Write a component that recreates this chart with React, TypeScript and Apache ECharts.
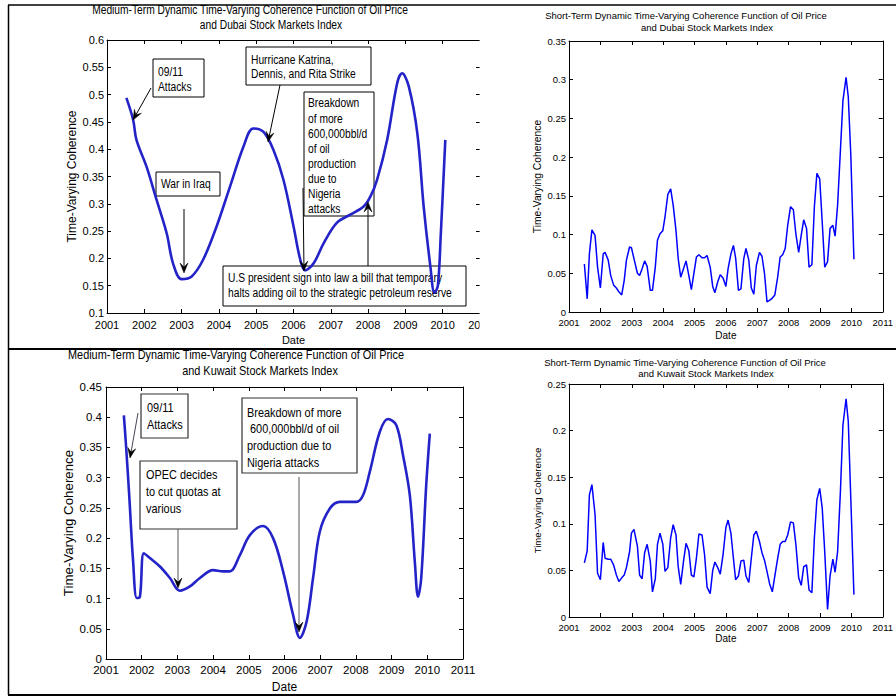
import React, { useEffect, useRef } from 'react';
import * as echarts from 'echarts';

// ---------- data ----------
const dubaiMedDates = [2001.52, 2001.70, 2001.79, 2002.06, 2002.33, 2002.6, 2002.77, 2003.0, 2003.27, 2003.58, 2003.94, 2004.3, 2004.66, 2004.92, 2005.19, 2005.46, 2005.73, 2006.0, 2006.18, 2006.31, 2006.54, 2006.81, 2007.16, 2007.52, 2007.88, 2008.06, 2008.24, 2008.51, 2008.78, 2008.91, 2009.09, 2009.32, 2009.49, 2009.67, 2009.78, 2009.87, 2009.95, 2010.07];
const dubaiMedValues = [0.494, 0.454, 0.417, 0.368, 0.307, 0.246, 0.191, 0.162, 0.167, 0.198, 0.259, 0.332, 0.405, 0.438, 0.432, 0.399, 0.344, 0.259, 0.198, 0.178, 0.191, 0.228, 0.265, 0.28, 0.295, 0.313, 0.344, 0.417, 0.521, 0.539, 0.515, 0.429, 0.295, 0.185, 0.137, 0.15, 0.246, 0.417];

const kuwaitMedDates = [2001.5, 2001.56, 2001.65, 2001.76, 2001.86, 2001.95, 2002.06, 2002.23, 2002.51, 2002.79, 2003.07, 2003.35, 2003.63, 2004.0, 2004.28, 2004.47, 2004.75, 2005.03, 2005.4, 2005.68, 2005.96, 2006.24, 2006.43, 2006.62, 2006.8, 2006.99, 2007.27, 2007.55, 2008.01, 2008.2, 2008.39, 2008.67, 2008.9, 2009.13, 2009.32, 2009.51, 2009.65, 2009.74, 2009.83, 2009.97, 2010.07];
const kuwaitMedValues = [0.403, 0.354, 0.271, 0.161, 0.101, 0.103, 0.175, 0.167, 0.153, 0.134, 0.113, 0.12, 0.134, 0.147, 0.145, 0.145, 0.172, 0.205, 0.22, 0.2, 0.145, 0.073, 0.035, 0.062, 0.134, 0.211, 0.249, 0.26, 0.26, 0.271, 0.31, 0.376, 0.397, 0.387, 0.337, 0.271, 0.161, 0.103, 0.134, 0.288, 0.373];

const shortTermDates = [
  2001.49, 2001.58, 2001.65, 2001.73, 2001.83, 2001.91, 2002.0, 2002.09, 2002.15, 2002.25,
  2002.33, 2002.42, 2002.51, 2002.59, 2002.68, 2002.76, 2002.83, 2002.93, 2002.99, 2003.07,
  2003.18, 2003.25, 2003.33, 2003.41, 2003.49, 2003.59, 2003.66, 2003.75, 2003.82, 2003.9,
  2003.99, 2004.06, 2004.15, 2004.24, 2004.32, 2004.41, 2004.48, 2004.56, 2004.65, 2004.73,
  2004.82, 2004.9, 2004.98, 2005.06, 2005.14, 2005.24, 2005.32, 2005.4, 2005.5, 2005.58,
  2005.65, 2005.74, 2005.82, 2005.91, 2006.0, 2006.07, 2006.16, 2006.24, 2006.31, 2006.4,
  2006.48, 2006.57, 2006.64, 2006.73, 2006.81, 2006.89, 2006.97, 2007.07, 2007.15, 2007.23,
  2007.31, 2007.39, 2007.48, 2007.56, 2007.65, 2007.73, 2007.81, 2007.89, 2007.97, 2008.06,
  2008.15, 2008.23, 2008.32, 2008.4, 2008.48, 2008.57, 2008.65, 2008.74, 2008.82, 2008.9,
  2008.99, 2009.07, 2009.15, 2009.24, 2009.32, 2009.41, 2009.48, 2009.56, 2009.65, 2009.73,
  2009.83, 2009.9, 2009.98, 2010.08,
];
const dubaiShortValues = [
  0.062, 0.017, 0.075, 0.106, 0.099, 0.058, 0.031, 0.075, 0.077, 0.067,
  0.047, 0.035, 0.031, 0.026, 0.022, 0.041, 0.067, 0.084, 0.083, 0.069,
  0.05, 0.047, 0.056, 0.066, 0.059, 0.028, 0.028, 0.058, 0.093, 0.101,
  0.105, 0.123, 0.152, 0.159, 0.138, 0.105, 0.069, 0.045, 0.056, 0.066,
  0.047, 0.029, 0.05, 0.071, 0.074, 0.07, 0.07, 0.073, 0.058, 0.033,
  0.025, 0.039, 0.048, 0.044, 0.033, 0.056, 0.075, 0.086, 0.07, 0.028,
  0.03, 0.069, 0.082, 0.067, 0.031, 0.023, 0.06, 0.077, 0.072, 0.05,
  0.013, 0.015, 0.018, 0.022, 0.045, 0.071, 0.074, 0.082, 0.112, 0.136,
  0.132, 0.101, 0.077, 0.099, 0.119, 0.108, 0.058, 0.061, 0.136, 0.179,
  0.172, 0.116, 0.058, 0.065, 0.108, 0.112, 0.098, 0.138, 0.209, 0.273,
  0.303, 0.278, 0.204, 0.068,
];
const kuwaitShortValues = [
  0.058, 0.071, 0.131, 0.142, 0.11, 0.047, 0.04, 0.08, 0.063, 0.062,
  0.062, 0.056, 0.045, 0.038, 0.042, 0.045, 0.053, 0.07, 0.09, 0.094,
  0.076, 0.045, 0.041, 0.069, 0.078, 0.06, 0.027, 0.041, 0.078, 0.09,
  0.078, 0.049, 0.053, 0.085, 0.099, 0.088, 0.054, 0.035, 0.06, 0.079,
  0.071, 0.045, 0.043, 0.063, 0.089, 0.088, 0.067, 0.032, 0.025, 0.05,
  0.059, 0.053, 0.046, 0.067, 0.096, 0.104, 0.09, 0.063, 0.04, 0.044,
  0.06, 0.061, 0.044, 0.037, 0.063, 0.088, 0.092, 0.081, 0.069, 0.061,
  0.049, 0.036, 0.027, 0.044, 0.063, 0.078, 0.081, 0.081, 0.088, 0.102,
  0.101, 0.078, 0.042, 0.034, 0.054, 0.056, 0.029, 0.026, 0.085, 0.126,
  0.138, 0.117, 0.07, 0.008, 0.044, 0.062, 0.048, 0.07, 0.135, 0.206,
  0.234, 0.21, 0.128, 0.024,
];

const yearMin = 2001;
const yearMax = 2011;
const yearStep = 1;
const coherenceStep = 0.05;

const titles = [
  ['Medium-Term Dynamic Time-Varying Coherence Function of Oil Price', 'and Dubai Stock Markets Index'],
  ['Short-Term Dynamic Time-Varying Coherence Function of Oil Price', 'and Dubai Stock Markets Index'],
  ['Medium-Term Dynamic Time-Varying Coherence Function of Oil Price', 'and Kuwait Stock Markets Index'],
  ['Short-Term Dynamic Time-Varying Coherence Function of Oil Price', 'and Kuwait Stock Markets Index'],
];
const xAxisName = 'Date';
const yAxisName = 'Time-Varying Coherence';

// ---------- styling ----------
const SANS = "'Liberation Sans', Arial, Helvetica, sans-serif";
const SQ = 0.82;

const pairs = (xs: number[], ys: number[]) => xs.map((x, i) => [x, ys[i]]);

type PanelCfg = {
  grid: { left: number; top: number; width: number; height: number };
  yMin: number; yMax: number;
  labelSize: number;
  xMargin: number; yMargin: number;
  xNameGap: number; yNameGap: number;
  xNameSize: number; yNameSize: number;
};

const panels: PanelCfg[] = [
  { grid: { left: 107, top: 40, width: 373, height: 273 }, yMin: 0.1, yMax: 0.6, labelSize: 11, xMargin: 6, yMargin: 3, xNameGap: 21, yNameGap: 29, xNameSize: 11, yNameSize: 12 },
  { grid: { left: 569, top: 41, width: 318, height: 271 }, yMin: 0, yMax: 0.35, labelSize: 9.5, xMargin: 5, yMargin: 3, xNameGap: 18, yNameGap: 27, xNameSize: 10, yNameSize: 10.3 },
  { grid: { left: 106, top: 387, width: 357, height: 272 }, yMin: 0, yMax: 0.45, labelSize: 11.5, xMargin: 5, yMargin: 4, xNameGap: 22, yNameGap: 31, xNameSize: 12, yNameSize: 13.3 },
  { grid: { left: 569, top: 384, width: 318, height: 233 }, yMin: 0, yMax: 0.25, labelSize: 9.5, xMargin: 5, yMargin: 3, xNameGap: 16, yNameGap: 27, xNameSize: 10, yNameSize: 9.6 },
];

const axisLineStyle = { color: '#000', width: 1 };

function buildAxes() {
  const xAxis: any[] = [];
  const yAxis: any[] = [];
  panels.forEach((p, gi) => {
    const baseX = {
      type: 'value', gridIndex: gi, min: yearMin, max: yearMax, interval: yearStep,
      axisLine: { show: true, onZero: false, lineStyle: axisLineStyle },
      axisTick: { show: true, inside: true, length: 4, lineStyle: axisLineStyle },
      splitLine: { show: false },
    };
    xAxis.push({
      ...baseX, position: 'bottom',
      axisLabel: { color: '#000', fontFamily: SANS, fontSize: p.labelSize, margin: p.xMargin, showMinLabel: true, showMaxLabel: true, formatter: (v: number) => String(v) },
      name: xAxisName, nameLocation: 'middle', nameGap: p.xNameGap,
      nameTextStyle: { color: '#000', fontFamily: SANS, fontSize: p.xNameSize },
    });
    xAxis.push({ ...baseX, position: 'top', axisLabel: { show: false } });
    const baseY = {
      type: 'value', gridIndex: gi, min: p.yMin, max: p.yMax, interval: coherenceStep,
      axisLine: { show: true, onZero: false, lineStyle: axisLineStyle },
      axisTick: { show: true, inside: true, length: 4, lineStyle: axisLineStyle },
      splitLine: { show: false },
    };
    yAxis.push({
      ...baseY, position: 'left',
      axisLabel: { color: '#000', fontFamily: SANS, fontSize: p.labelSize, margin: p.yMargin, showMinLabel: true, showMaxLabel: true, formatter: (v: number) => String(Math.round(v * 100) / 100) },
      name: yAxisName, nameLocation: 'middle', nameGap: p.yNameGap, nameRotate: 90,
      nameTextStyle: { color: '#000', fontFamily: SANS, fontSize: p.yNameSize },
    });
    yAxis.push({ ...baseY, position: 'right', axisLabel: { show: false } });
  });
  return { xAxis, yAxis };
}

// ---------- annotation helpers ----------
function arrow(x1: number, y1: number, x2: number, y2: number, color: string, z = 5) {
  const dx = x2 - x1, dy = y2 - y1;
  const len = Math.sqrt(dx * dx + dy * dy);
  const ux = dx / len, uy = dy / len;
  const px = -uy, py = ux;
  const L = 10, W = 4, N = 6;
  const bx = x2 - ux * L, by = y2 - uy * L;
  const nx = x2 - ux * N, ny = y2 - uy * N;
  return [
    { type: 'line', z, shape: { x1, y1, x2: nx, y2: ny }, style: { stroke: color, lineWidth: 1 } },
    { type: 'polygon', z, shape: { points: [[x2, y2], [bx + px * W, by + py * W], [nx, ny], [bx - px * W, by - py * W]] }, style: { fill: '#000', stroke: '#000', lineWidth: 0.5 } },
  ];
}

function box(x: number, y: number, w: number, h: number, stroke: string, lw: number) {
  return { type: 'rect', z: 1, shape: { x, y, width: w, height: h }, style: { fill: '#fff', stroke, lineWidth: lw } };
}

function textLines(x: number, ys: number[], lines: string[], size: number, align = 'left', scale = SQ) {
  return lines.map((t, i) => ({
    type: 'text', z: 1, x, y: ys[i], scaleX: scale,
    style: { text: t, fontFamily: SANS, fontSize: size, fill: '#000', align, verticalAlign: 'middle' },
  }));
}

function buildGraphics() {
  const g: any[] = [];
  // titles
  g.push(...textLines(250, [10], [titles[0][0]], 12.5, 'center'));
  g.push(...textLines(271, [25], [titles[0][1]], 12.5, 'center'));
  g.push(...textLines(686, [15], [titles[1][0]], 9.5, 'center', 1));
  g.push(...textLines(707, [27], [titles[1][1]], 9.5, 'center', 1));
  g.push(...textLines(236, [355], [titles[2][0]], 13.3, 'center'));
  g.push(...textLines(260, [371], [titles[2][1]], 13.3, 'center'));
  g.push(...textLines(685, [362], [titles[3][0]], 9.5, 'center', 1));
  g.push(...textLines(706, [373], [titles[3][1]], 9.5, 'center', 1));

  // panel 1 annotations
  g.push(box(153, 59, 51, 38, '#000', 1));
  g.push(...textLines(158, [72, 87], ['09/11', 'Attacks'], 12.5));
  g.push(...arrow(151, 88, 133, 120, '#000'));

  g.push(box(246, 47, 125, 38, '#000', 1));
  g.push(...textLines(251, [60, 74], ['Hurricane Katrina,', 'Dennis, and Rita Strike'], 12.5));
  g.push(...arrow(280, 85, 268, 142, '#000'));

  g.push(box(156, 172, 64, 24, '#000', 1));
  g.push(...textLines(161, [184], ['War in Iraq'], 12.5));
  g.push(...arrow(184, 209, 184, 273, '#000'));

  g.push(box(304, 92, 70, 124, '#000', 1));
  g.push(...textLines(308, [103, 118.5, 133.5, 148.5, 163.5, 178.5, 193.5, 208.5],
    ['Breakdown', 'of more', '600,000bbl/d', 'of oil', 'production', 'due to', 'Nigeria', 'attacks'], 12.5));
  g.push(...arrow(303, 188, 304, 271, '#000'));

  g.push(box(223, 266, 243, 40, '#000', 1));
  g.push(...textLines(228, [278, 293],
    ['U.S president sign into law a bill that temporary', 'halts adding oil to the strategic petroleum reserve'], 12.5));
  g.push(...arrow(368, 266, 368, 202, '#000'));

  // panel 3 annotations
  g.push(box(141, 394, 47, 44, '#333', 1.2));
  g.push(...textLines(147, [408, 425], ['09/11', 'Attacks'], 13.3));
  g.push(...arrow(138, 413, 130, 458, '#445'));

  g.push(box(140, 461, 97, 68, '#333', 1.2));
  g.push(...textLines(146, [475, 492, 509], ['OPEC decides', 'to cut quotas at', 'various'], 13.3));
  g.push(...arrow(178, 529, 178, 588, '#555'));

  g.push(box(242, 398, 115, 75, '#333', 1.2));
  g.push(...textLines(247, [413, 429, 446, 463],
    ['Breakdown of more', ' 600,000bbl/d of oil', 'production due to', 'Nigeria attacks'], 13.3));
  g.push(...arrow(299, 477, 299, 632, '#555'));

  // cover for the clipped edge of the first plot
  g.push({ type: 'rect', z: 100, shape: { x: 479.6, y: 20, width: 50, height: 327 }, style: { fill: '#fff' } });

  // page frame
  const fl = (x1: number, y1: number, x2: number, y2: number, w = 1.5) =>
    ({ type: 'line', z: 101, shape: { x1, y1, x2, y2 }, style: { stroke: '#000', lineWidth: w } });
  g.push(fl(8, 5, 896, 5));
  g.push(fl(8, 349, 896, 349, 2));
  g.push(fl(8, 695, 896, 695, 2));
  g.push(fl(8.5, 5, 8.5, 695, 1.5));
  return g;
}

export default function App() {
  const ref = useRef<HTMLDivElement>(null);
  useEffect(() => {
    if (!ref.current) return;
    const chart = echarts.init(ref.current, undefined, { renderer: 'svg' });
    const { xAxis, yAxis } = buildAxes();
    const medStyle = { color: '#2323c8', width: 2.6 };
    const shortStyle = { color: '#0000ff', width: 1.5 };
    chart.setOption({
      animation: false,
      backgroundColor: '#fff',
      grid: panels.map((p) => ({ ...p.grid, containLabel: false })),
      xAxis,
      yAxis,
      series: [
        { type: 'line', xAxisIndex: 0, yAxisIndex: 0, data: pairs(dubaiMedDates, dubaiMedValues), smooth: 0.35, showSymbol: false, lineStyle: medStyle, itemStyle: { color: medStyle.color }, z: 3 },
        { type: 'line', xAxisIndex: 2, yAxisIndex: 2, data: pairs(shortTermDates, dubaiShortValues), smooth: false, showSymbol: false, lineStyle: shortStyle, itemStyle: { color: shortStyle.color }, z: 3 },
        { type: 'line', xAxisIndex: 4, yAxisIndex: 4, data: pairs(kuwaitMedDates, kuwaitMedValues), smooth: 0.35, showSymbol: false, lineStyle: medStyle, itemStyle: { color: medStyle.color }, z: 3 },
        { type: 'line', xAxisIndex: 6, yAxisIndex: 6, data: pairs(shortTermDates, kuwaitShortValues), smooth: false, showSymbol: false, lineStyle: shortStyle, itemStyle: { color: shortStyle.color }, z: 3 },
      ],
      graphic: buildGraphics(),
    });
    return () => chart.dispose();
  }, []);
  return (
    <div
      ref={ref}
      style={{ position: 'fixed', left: 0, top: 0, width: 896, height: 696, background: '#fff' }}
    />
  );
}
